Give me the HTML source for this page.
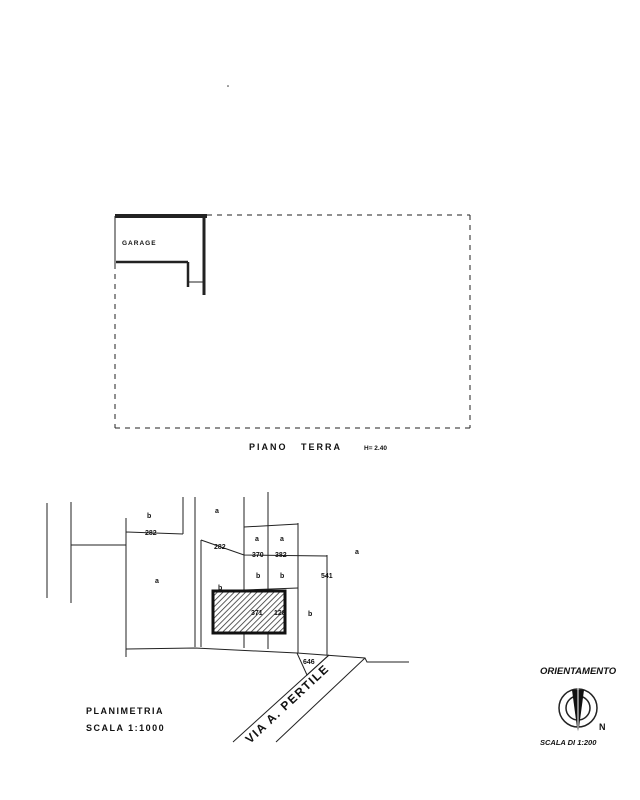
<!DOCTYPE html>
<html><head><meta charset="utf-8"><style>
html,body{margin:0;padding:0;background:#fff;}
svg{display:block}
text{font-family:"Liberation Sans",sans-serif;font-weight:bold;fill:#111}
</style></head><body>
<svg width="640" height="800" viewBox="0 0 640 800" xmlns="http://www.w3.org/2000/svg">
<defs>
<pattern id="h" width="4" height="4" patternUnits="userSpaceOnUse" patternTransform="rotate(45)">
<rect width="4" height="4" fill="#fff"/><line x1="0" y1="0" x2="0" y2="4" stroke="#333" stroke-width="1.6"/>
</pattern>
</defs>
<g stroke="#222" fill="none">
<!-- top plan -->
<g stroke-dasharray="5,5" stroke-width="1">
<line x1="207" y1="215" x2="470" y2="215"/>
<line x1="470" y1="215" x2="470" y2="428"/>
<line x1="115" y1="428" x2="470" y2="428"/>
<line x1="115" y1="264" x2="115" y2="428"/>
</g>
<line x1="115" y1="216" x2="207" y2="216" stroke-width="4"/>
<line x1="204" y1="216" x2="204" y2="295" stroke-width="3"/>
<line x1="116" y1="262" x2="188" y2="262" stroke-width="2.5"/>
<line x1="188" y1="262" x2="188" y2="287" stroke-width="2.5"/>
<line x1="115" y1="216" x2="115" y2="264" stroke-width="1"/>
<line x1="188" y1="282" x2="204" y2="282" stroke-width="1"/>

<!-- site map -->
<g stroke-width="1">
<line x1="47" y1="503" x2="47" y2="598"/>
<line x1="71" y1="502" x2="71" y2="603"/>
<line x1="126" y1="518" x2="126" y2="657"/>
<line x1="183" y1="497" x2="183" y2="534"/>
<line x1="195" y1="497" x2="195" y2="647"/>
<line x1="201" y1="540" x2="201" y2="647"/>
<line x1="244" y1="497" x2="244" y2="648"/>
<line x1="268" y1="492" x2="268" y2="649"/>
<line x1="298" y1="523" x2="298" y2="653"/>
<line x1="327" y1="555" x2="327" y2="655"/>
<line x1="71" y1="545" x2="126" y2="545"/>
<line x1="126" y1="532" x2="183" y2="534"/>
<polyline points="201,540 244,555 327,556"/>
<line x1="244" y1="527" x2="298" y2="524"/>
<line x1="244" y1="590" x2="298" y2="588"/>
<polyline points="126,649 195,648 297,653 365,658 367,662 409,662"/>
<polyline points="297,653 307,675 329,655"/>
<line x1="329" y1="655" x2="233" y2="742"/>
<line x1="365" y1="658" x2="276" y2="742"/>
</g>
<rect x="213" y="591" width="72" height="42" fill="url(#h)" stroke="#111" stroke-width="3"/>

<!-- compass -->
<circle cx="578" cy="708" r="19" stroke-width="1.5"/>
<circle cx="578" cy="708" r="12" stroke-width="1.5"/>
</g>
<polygon points="572,690 584,690 578,735" fill="#111"/>
<line x1="578" y1="682" x2="578" y2="735" stroke="#fff" stroke-width="1"/>

<g font-size="7">
<text x="122" y="245" font-size="6.5" letter-spacing="1">GARAGE</text>
<text x="249" y="450" font-size="9" letter-spacing="2">PIANO</text>
<text x="301" y="450" font-size="9" letter-spacing="2">TERRA</text>
<text x="364" y="450" font-size="6.5">H= 2.40</text>
<text x="147" y="518">b</text>
<text x="145" y="535">282</text>
<text x="215" y="513">a</text>
<text x="214" y="549">282</text>
<text x="252" y="557">370</text>
<text x="275" y="557">382</text>
<text x="255" y="541">a</text>
<text x="280" y="541">a</text>
<text x="256" y="578">b</text>
<text x="280" y="578">b</text>
<text x="321" y="578">541</text>
<text x="355" y="554">a</text>
<text x="155" y="583">a</text>
<text x="218" y="590">b</text>
<text x="251" y="615">371</text>
<text x="274" y="615">128</text>
<text x="308" y="616">b</text>
<text x="303" y="664">646</text>
</g>
<text x="86" y="714" font-size="9" letter-spacing="1.5">PLANIMETRIA</text>
<text x="86" y="731" font-size="9" letter-spacing="1.5">SCALA 1:1000</text>
<text x="0" y="0" font-size="12" letter-spacing="1.5" transform="translate(250,744) rotate(-43)">VIA A. PERTILE</text>
<text x="540" y="674" font-size="9.5" font-family="Liberation Serif" font-style="italic">ORIENTAMENTO</text>
<text x="599" y="730" font-size="9">N</text>
<text x="540" y="745" font-size="7.5" font-family="Liberation Serif" font-style="italic">SCALA DI 1:200</text>
<circle cx="228" cy="86" r="0.8" fill="#333"/>
</svg>
</body></html>
